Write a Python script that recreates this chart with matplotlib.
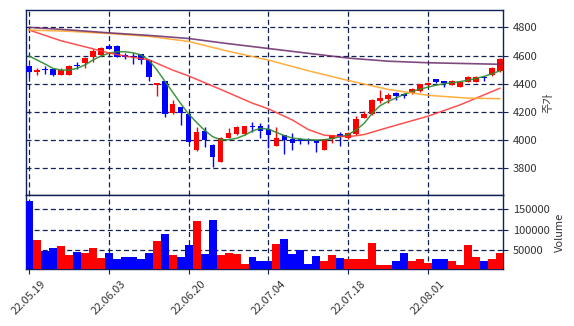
import matplotlib
matplotlib.use("Agg")
import matplotlib.pyplot as plt
import numpy as np

plt.rcParams['font.family'] = ['Noto Sans CJK KR', 'DejaVu Sans']

# 일봉 데이터
tick_labels = ["22.05.19", "22.06.03", "22.06.20", "22.07.04", "22.07.18", "22.08.01"]
tick_idx = [0, 10, 20, 30, 40, 50]

opens = [4526, 4481, 4504, 4506, 4464, 4464, 4531, 4549, 4592, 4601,
         4667, 4667, 4601, 4596, 4609, 4568, 4393, 4419, 4190, 4235,
         4187, 3930, 4065, 3966, 3847, 4017, 4043, 4043, 4100, 4100,
         4077, 3961, 4036, 4010, 4006, 4003, 3999, 3930, 4006, 4043,
         4013, 4043, 4159, 4183, 4280, 4290, 4336, 4327, 4332, 4346,
         4393, 4431, 4417, 4391, 4379, 4414, 4414, 4450, 4460, 4488]
closes = [4481, 4497, 4497, 4464, 4497, 4523, 4524, 4582, 4632, 4651,
          4648, 4592, 4592, 4587, 4568, 4450, 4403, 4185, 4254, 4195,
          3989, 4055, 4001, 3878, 4013, 4048, 4093, 4100, 4091, 4065,
          4036, 4017, 4001, 3982, 3996, 3996, 3982, 4006, 4036, 4024,
          4048, 4148, 4183, 4284, 4297, 4320, 4313, 4313, 4360, 4398,
          4407, 4414, 4407, 4417, 4414, 4450, 4450, 4438, 4514, 4577]
highs = [4530, 4509, 4526, 4508, 4509, 4536, 4552, 4592, 4646, 4660,
         4674, 4674, 4616, 4616, 4612, 4570, 4405, 4422, 4285, 4237,
         4190, 4095, 4095, 3973, 4020, 4088, 4100, 4103, 4126, 4119,
         4112, 4095, 4040, 4048, 4013, 4017, 4003, 4008, 4040, 4060,
         4055, 4170, 4204, 4292, 4355, 4332, 4338, 4333, 4368, 4400,
         4410, 4433, 4419, 4426, 4417, 4453, 4452, 4455, 4521, 4584]
lows = [4448, 4460, 4469, 4455, 4460, 4460, 4504, 4511, 4556, 4598,
        4645, 4590, 4573, 4538, 4538, 4421, 4311, 4166, 4185, 4107,
        3986, 3925, 3953, 3812, 3845, 4015, 4040, 4040, 4060, 4013,
        3942, 3959, 3899, 3930, 3970, 3970, 3917, 3928, 3978, 3958,
        4010, 4040, 4155, 4180, 4262, 4261, 4285, 4298, 4330, 4344,
        4390, 4403, 4375, 4388, 4377, 4411, 4412, 4419, 4458, 4486]
volumes = [170200, 75100, 48300, 54900, 60500, 38500, 45800, 43400, 55600, 31200,
           43400, 27800, 34900, 34900, 27800, 43400, 72700, 89800, 38500, 34900,
           62900, 121500, 41000, 124000, 38500, 43400, 41000, 15900, 34900, 22800,
           22800, 65300, 76800, 41000, 50000, 16600, 36000, 23900, 38500, 31200,
           28700, 28700, 27800, 67100, 14100, 14100, 23900, 43400, 22800, 27800,
           19400, 27800, 27800, 23900, 14100, 62900, 33600, 22800, 28700, 43400]

# 이동평균선
ma5 = [4597, 4568, 4540, 4509, 4497, 4497, 4509, 4533, 4568, 4597,
       4616, 4627, 4627, 4620, 4605, 4568, 4500, 4420, 4340, 4260,
       4185, 4125, 4070, 4025, 4003, 4003, 4013, 4035, 4065, 4084,
       4078, 4055, 4032, 4015, 4008, 4003, 4001, 4003, 4012, 4024,
       4040, 4072, 4120, 4190, 4245, 4275, 4300, 4325, 4345, 4362,
       4376, 4390, 4400, 4408, 4415, 4425, 4437, 4452, 4470, 4492]
ma20_idx = [0, 4, 8, 10, 13, 15, 18, 20, 24, 28, 30, 33, 35, 37, 40, 42, 45, 50, 54, 59]
ma20 = [4781, 4705, 4648, 4618, 4587, 4570, 4497, 4455, 4360, 4262,
        4222, 4143, 4075, 4035, 4024, 4040, 4090, 4170, 4250, 4368]
ma_idx = [0, 5, 10, 15, 20, 25, 30, 35, 40, 45, 50, 55, 59]
ma60 = [4781, 4772, 4756, 4736, 4700, 4630, 4568, 4492, 4423, 4360, 4318, 4298, 4294]
ma120 = [4800, 4782, 4761, 4743, 4721, 4684, 4650, 4616, 4582, 4560, 4549, 4543, 4538]

x = np.arange(len(opens))
o = np.array(opens); c = np.array(closes)
up = c >= o
colors = np.where(up, '#ff0000', '#0000ff')

navy = '#0f2157'
txt = '#333333'

fig = plt.figure(figsize=(5.74, 3.26), dpi=100)
ax = fig.add_axes([0.0448, 0.4018, 0.832, 0.5675])
axv = fig.add_axes([0.0448, 0.1739, 0.832, 0.2279], sharex=ax)

# 캔들
ax.vlines(x, lows, highs, colors=colors, linewidth=1, zorder=2)
ax.bar(x, np.abs(c - o), bottom=np.minimum(o, c), width=0.7, color=colors, zorder=3)

# 이동평균선
ax.plot(x, ma5, color='#2e8b2e', lw=1.1, alpha=0.9, zorder=4)
ax.plot(ma20_idx, ma20, color='#ff3333', lw=1.1, alpha=0.85, zorder=4)
ax.plot(ma_idx, ma60, color='#ffa62b', lw=1.1, alpha=0.9, zorder=4)
ax.plot(ma_idx, ma120, color='#6a2a6a', lw=1.2, alpha=0.85, zorder=4)

# 거래량
axv.bar(x, volumes, width=1.0, color=colors, zorder=3)

ax.set_xlim(-0.42, 59.43)
ax.set_ylim(3611, 4923)
axv.set_ylim(3660, 184900)

for a in (ax, axv):
    a.yaxis.tick_right()
    a.yaxis.set_label_position('right')
    a.grid(True, linestyle='--', color=navy, linewidth=0.9, dashes=(4, 2.5))
    a.set_axisbelow(True)
    for s in a.spines.values():
        s.set_color(navy)
        s.set_linewidth(1.0)
    a.tick_params(colors=txt, labelsize=8, length=3.5)
    a.tick_params(axis='both', color=navy)

ax.set_yticks([3800, 4000, 4200, 4400, 4600, 4800])
axv.set_yticks([50000, 100000, 150000])
axv.set_xticks(tick_idx)
axv.set_xticklabels(tick_labels, rotation=45)
ax.tick_params(axis='x', labelbottom=False)

ax.set_ylabel('주가', fontsize=8, color=txt, labelpad=4)
axv.set_ylabel('Volume', fontsize=8, color=txt, labelpad=4)

fig.savefig('out.png', dpi=100)
